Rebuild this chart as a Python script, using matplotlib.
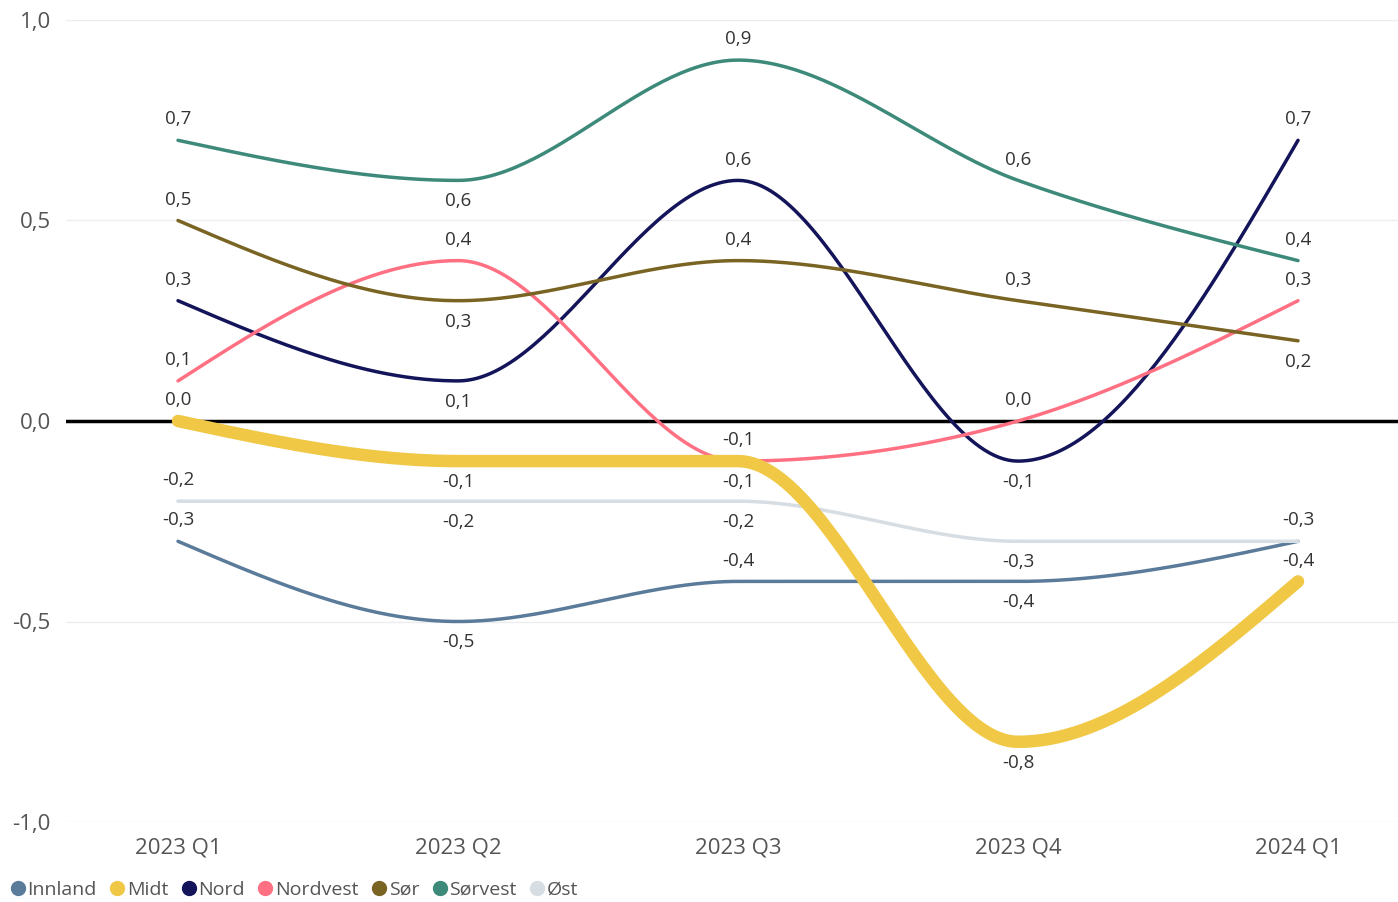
import numpy as np
import matplotlib
matplotlib.use("Agg")
import matplotlib.pyplot as plt
from matplotlib.lines import Line2D

plt.rcParams['font.family'] = ['Open Sans', 'DejaVu Sans']

# Data
quarters = ["2023 Q1", "2023 Q2", "2023 Q3", "2023 Q4", "2024 Q1"]
regions = ["Innland", "Midt", "Nord", "Nordvest", "Sør", "Sørvest", "Øst"]
innland = [-0.3, -0.5, -0.4, -0.4, -0.3]
midt = [0.0, -0.1, -0.1, -0.8, -0.4]
nord = [0.3, 0.1, 0.6, -0.1, 0.7]
nordvest = [0.1, 0.4, -0.1, 0.0, 0.3]
sor = [0.5, 0.3, 0.4, 0.3, 0.2]
sorvest = [0.7, 0.6, 0.9, 0.6, 0.4]
ost = [-0.2, -0.2, -0.2, -0.3, -0.3]
series = [innland, midt, nord, nordvest, sor, sorvest, ost]

# Styles
colors = ["#5B7B9A", "#F0C846", "#14145A", "#FF7083", "#7A6424", "#3D8A7A", "#D6DDE3"]
widths = [2.5, 9, 2.5, 2.5, 2.5, 2.5, 2.5]
# label position per point: +1 above, -1 below, 0 none
label_side = {
    "Innland": [1, -1, 1, -1, 0],
    "Midt": [1, -1, -1, -1, 1],
    "Nord": [1, -1, 1, -1, 1],
    "Nordvest": [1, 1, 1, 1, 1],
    "Sør": [1, -1, 1, 1, -1],
    "Sørvest": [1, -1, 1, 1, 1],
    "Øst": [1, -1, -1, -1, 1],
}


# Glatt kurve (monotone X, som d3)
def monotone_curve(x, y, n=60):
    x = np.asarray(x, float)
    y = np.asarray(y, float)
    h = np.diff(x)
    s = np.diff(y) / h
    t = np.zeros(len(x))
    for i in range(1, len(x) - 1):
        p = (s[i - 1] * h[i] + s[i] * h[i - 1]) / (h[i - 1] + h[i])
        sg = (1 if s[i - 1] >= 0 else -1) + (1 if s[i] >= 0 else -1)
        t[i] = sg * min(abs(s[i - 1]), abs(s[i]), 0.5 * abs(p)) if sg != 0 else 0.0
    t[0] = (3 * s[0] - t[1]) / 2
    t[-1] = (3 * s[-1] - t[-2]) / 2
    xs, ys = [], []
    for i in range(len(x) - 1):
        dx = h[i] / 3
        p0 = (x[i], y[i])
        p1 = (x[i] + dx, y[i] + dx * t[i])
        p2 = (x[i + 1] - dx, y[i + 1] - dx * t[i + 1])
        p3 = (x[i + 1], y[i + 1])
        u = np.linspace(0, 1, n)
        bx = (1 - u) ** 3 * p0[0] + 3 * (1 - u) ** 2 * u * p1[0] + 3 * (1 - u) * u ** 2 * p2[0] + u ** 3 * p3[0]
        by = (1 - u) ** 3 * p0[1] + 3 * (1 - u) ** 2 * u * p1[1] + 3 * (1 - u) * u ** 2 * p2[1] + u ** 3 * p3[1]
        xs.append(bx)
        ys.append(by)
    return np.concatenate(xs), np.concatenate(ys)


fig = plt.figure(figsize=(13.98, 9.02), dpi=100)
ax = fig.add_axes([66 / 1398, 80 / 902, 1332 / 1398, 802 / 902])

xpos = np.arange(len(quarters))
for name, vals, c, w in zip(regions, series, colors, widths):
    cx, cy = monotone_curve(xpos, vals)
    ax.plot(cx, cy, color=c, linewidth=w, solid_capstyle="round", zorder=4 if name == "Midt" else 3)

ax.axhline(0, color="black", linewidth=2.5, zorder=2)

for name, vals in zip(regions, series):
    for i, v in enumerate(vals):
        side = label_side[name][i]
        if side == 0:
            continue
        txt = f"{v:.1f}".replace(".", ",")
        ax.annotate(txt, (xpos[i], v), xytext=(0, 15 * side), textcoords="offset points",
                    ha="center", va="center", fontsize=13.5, color="#333333", zorder=5)

ax.set_xlim(-0.4, 4.357)
ax.set_ylim(-1.0, 1.0)
ax.set_yticks([-1.0, -0.5, 0.0, 0.5, 1.0])
ax.set_yticklabels([f"{v:.1f}".replace(".", ",") for v in [-1.0, -0.5, 0.0, 0.5, 1.0]])
ax.set_xticks(xpos)
ax.set_xticklabels(quarters)
ax.tick_params(axis="both", length=0, labelsize=16, labelcolor="#555555")
ax.tick_params(axis="x", pad=11)
ax.tick_params(axis="y", pad=11)
ax.grid(axis="y", color="#EBEDF0", linewidth=1)
ax.set_axisbelow(True)
for sp in ax.spines.values():
    sp.set_visible(False)

handles = [Line2D([], [], marker="o", linestyle="", markersize=10, markerfacecolor=c,
                  markeredgecolor=c) for c in colors]
fig.legend(handles, regions, loc="center left", bbox_to_anchor=(0.0, 1 - 890 / 902),
           ncol=len(regions), frameon=False, handletextpad=0.0, columnspacing=0.55,
           fontsize=14, labelcolor="#555555", handlelength=1.0, borderaxespad=0.2,
           borderpad=0.2)

fig.savefig("out.png", dpi=100)
